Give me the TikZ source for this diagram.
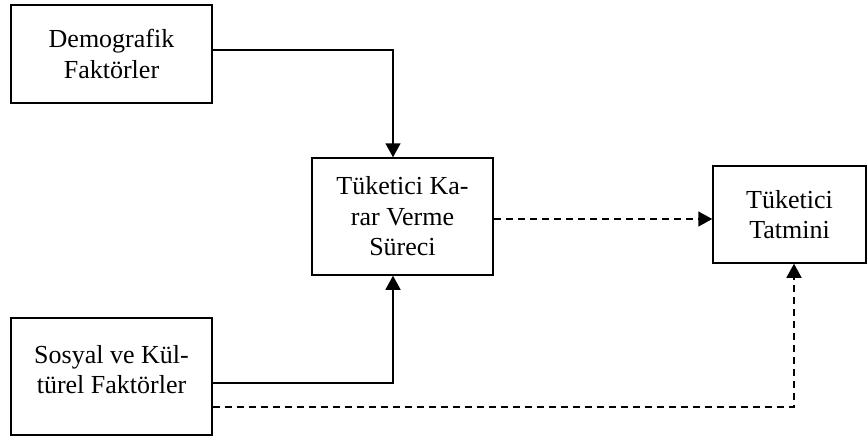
\documentclass[tikz,border=0pt]{standalone}
\usepackage{fontspec}
\setmainfont{Liberation Serif}
\usetikzlibrary{arrows.meta,calc}

\tikzset{
  box/.style={draw, line width=1.5pt, rectangle, align=center, inner sep=0pt,
              font=\fontsize{26}{30.5}\selectfont},
  link/.style={line width=1.5pt, -{Triangle[length=14pt,width=15pt]}},
  dlink/.style={link, dash pattern=on 7pt off 5pt},
}

\begin{document}
\begin{tikzpicture}[x=1pt,y=-1pt]
  \useasboundingbox (0,0) rectangle (868,437);

  % boxes (sizes in pt)
  \node[box, minimum width=201pt, minimum height=98pt]  (demo)  at (111.5,54)
    {Demografik\\Faktörler};
  \node[box, minimum width=181pt, minimum height=117pt] (karar) at (402.5,216.5)
    {Tüketici Ka-\\rar Verme\\Süreci};
  \node[box, minimum width=153pt, minimum height=97pt]  (tatmin) at (789.5,214.5)
    {Tüketici\\Tatmini};
  \node[box, minimum width=201pt, minimum height=117pt, text depth=14pt] (sosyal) at (111.5,376.5)
    {Sosyal ve Kül-\\türel Faktörler};

  % solid links into the decision process
  \draw[link] ([yshift=4pt]demo.east) -| ([xshift=-9.5pt]karar.north);
  \draw[link] ([yshift=-6.5pt]sosyal.east) -| ([xshift=-9.5pt]karar.south);

  % dashed links into satisfaction
  \draw[dlink] ([yshift=-2.5pt]karar.east) -- ([yshift=-4.5pt]tatmin.west);
  \draw[dlink] ([yshift=-30.5pt]sosyal.east) -| ([xshift=4.5pt]tatmin.south);
\end{tikzpicture}
\end{document}
